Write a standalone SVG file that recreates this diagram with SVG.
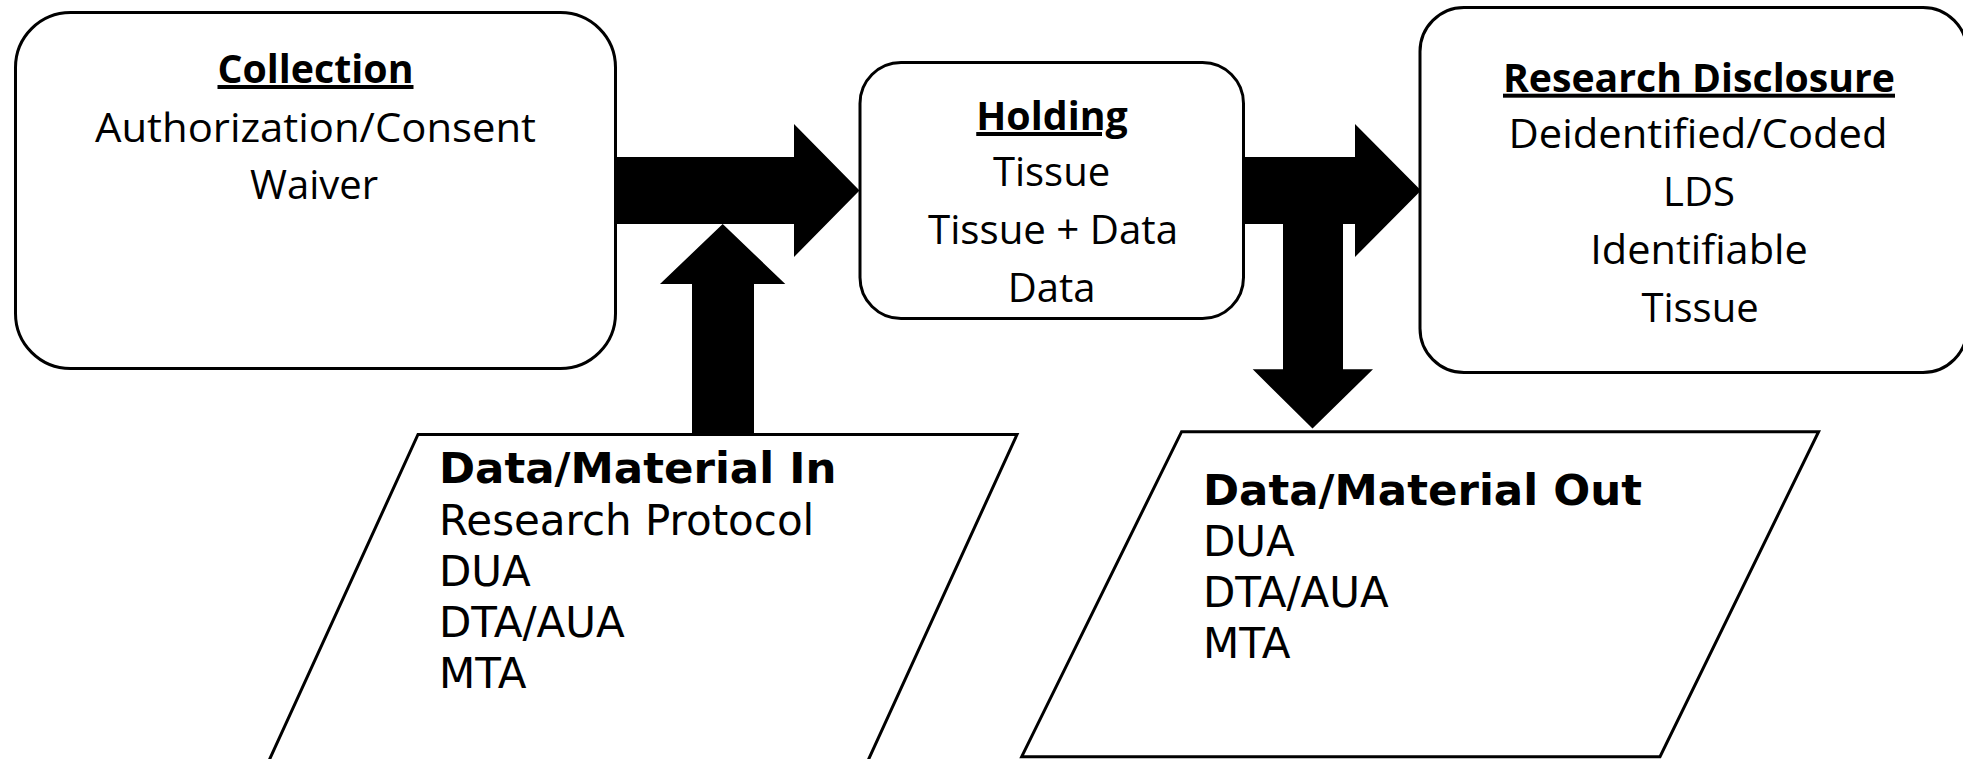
<svg xmlns="http://www.w3.org/2000/svg" width="1963" height="759" viewBox="0 0 1963 759">
<style>
.box{fill:#fff;stroke:#000;stroke-width:3}
.arrow{fill:#000;stroke:none}
.t{font-family:"Open Sans","Liberation Sans",sans-serif;font-size:40px;fill:#000;text-anchor:middle}
.h{font-weight:bold;text-decoration:underline}
.p{font-family:"DejaVu Sans","Liberation Sans",sans-serif;font-size:42px;fill:#000}
.pb{font-weight:bold;font-size:43.5px}
</style>
<rect width="1963" height="759" fill="#fff"/>
<g id="collection">
<rect class="box" x="15.5" y="12.5" width="600" height="356" rx="55" ry="55"/>
<text class="t h" x="315.5" y="83" textLength="196" lengthAdjust="spacingAndGlyphs">Collection</text>
<text class="t" x="315.5" y="141.7" textLength="441" lengthAdjust="spacingAndGlyphs">Authorization/Consent</text>
<text class="t" x="314" y="199">Waiver</text>
</g>
<g id="holding">
<rect class="box" x="860" y="62.5" width="383.5" height="256" rx="41" ry="41"/>
<text class="t h" x="1052" y="130" textLength="151.5" lengthAdjust="spacingAndGlyphs">Holding</text>
<text class="t" x="1051.5" y="186">Tissue</text>
<text class="t" x="1053" y="244" textLength="250" lengthAdjust="spacingAndGlyphs">Tissue + Data</text>
<text class="t" x="1051.5" y="302">Data</text>
</g>
<g id="research-disclosure">
<rect class="box" x="1420" y="7.5" width="547" height="365" rx="44" ry="44"/>
<text class="t h" x="1699" y="91.7" textLength="392" lengthAdjust="spacingAndGlyphs">Research Disclosure</text>
<text class="t" x="1698" y="148" textLength="379" lengthAdjust="spacingAndGlyphs">Deidentified/Coded</text>
<text class="t" x="1699" y="205.5">LDS</text>
<text class="t" x="1699" y="263.5" textLength="217.6" lengthAdjust="spacingAndGlyphs">Identifiable</text>
<text class="t" x="1700" y="321.7">Tissue</text>
</g>
<g id="data-material-in">
<polygon class="box" points="418,434.5 1017,434.5 850,800 251,800"/>
<text class="p pb" x="439" y="483">Data/Material In</text>
<text class="p" x="439" y="534.5">Research Protocol</text>
<text class="p" x="439" y="585.5">DUA</text>
<text class="p" x="439" y="636.5">DTA/AUA</text>
<text class="p" x="439" y="687.5">MTA</text>
</g>
<g id="data-material-out">
<polygon class="box" points="1181.6,431.7 1818.6,431.7 1660,756.7 1021.7,756.7"/>
<text class="p pb" x="1203" y="505">Data/Material Out</text>
<text class="p" x="1203" y="556">DUA</text>
<text class="p" x="1203" y="607">DTA/AUA</text>
<text class="p" x="1203" y="658">MTA</text>
</g>
<g id="connectors">
<polygon class="arrow" points="615,157 794,157 794,124 859.5,190.5 794,257 794,224 615,224"/>
<polygon class="arrow" points="692,435 692,284 660,284 722.7,224 785.3,284 754,284 754,435"/>
<polygon class="arrow" points="1243,157 1355,157 1355,124 1421,190.5 1355,257 1355,224 1243,224"/>
<polygon class="arrow" points="1283,224 1343,224 1343,369.3 1373,369.3 1312.5,428.5 1252.7,369.3 1283,369.3"/>
</g>
</svg>
